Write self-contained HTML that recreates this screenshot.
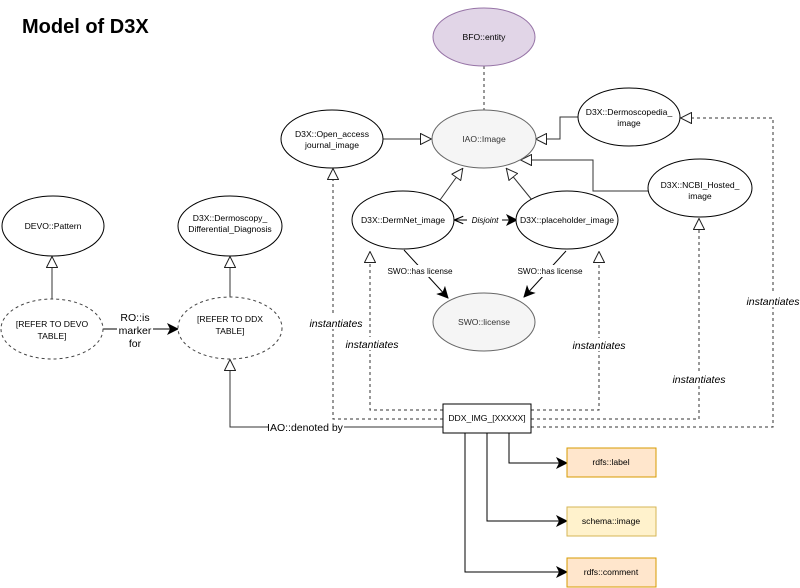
<!DOCTYPE html>
<html><head><meta charset="utf-8"><style>
html,body{margin:0;padding:0;background:#fff;}
svg{display:block;font-family:"Liberation Sans",Arial,sans-serif;}
</style></head><body>
<svg width="800" height="588" viewBox="0 0 800 588" xmlns="http://www.w3.org/2000/svg">
<defs>
<marker id="tri" viewBox="0 0 12 12" refX="12" refY="6" markerWidth="12" markerHeight="12" markerUnits="userSpaceOnUse" orient="auto">
<path d="M0.5,0.5 L11.5,6 L0.5,11.5 Z" fill="#fff" stroke="#222" stroke-width="1"/></marker>
<marker id="arr" viewBox="0 0 12 12" refX="11" refY="6" markerWidth="12" markerHeight="12" markerUnits="userSpaceOnUse" orient="auto">
<path d="M0,0 L12,6 L0,12 L3,6 Z" fill="#000"/></marker>
<marker id="arrs" viewBox="0 0 12 12" refX="1" refY="6" markerWidth="9" markerHeight="9" markerUnits="userSpaceOnUse" orient="auto">
<path d="M12,1 L0,6 L12,11" fill="none" stroke="#000" stroke-width="1.5"/></marker>
</defs>
<text x="22" y="33" font-size="20" font-weight="bold" fill="#000">Model of D3X</text>

<g fill="none" stroke="#333" stroke-width="1">
<line x1="484" y1="66" x2="484" y2="110" stroke-dasharray="3,3"/>
<line x1="383" y1="139" x2="432" y2="139" marker-end="url(#tri)"/>
<polyline points="578,117 560,117 560,139 535,139" marker-end="url(#tri)"/>
<polyline points="648,191 593,191 593,160 520,160" marker-end="url(#tri)"/>
<line x1="440" y1="200" x2="463" y2="168" marker-end="url(#tri)"/>
<line x1="532" y1="200" x2="506" y2="168" marker-end="url(#tri)"/>
<line x1="455" y1="220" x2="517" y2="220" stroke="#000" marker-start="url(#arrs)" marker-end="url(#arr)"/>
<line x1="404" y1="250" x2="448" y2="298" stroke="#000" marker-end="url(#arr)"/>
<line x1="566" y1="251" x2="524" y2="297" stroke="#000" marker-end="url(#arr)"/>
<line x1="52" y1="299" x2="52" y2="256" marker-end="url(#tri)"/>
<line x1="230" y1="297" x2="230" y2="256" marker-end="url(#tri)"/>
<line x1="103" y1="329" x2="178" y2="329" stroke="#000" marker-end="url(#arr)"/>
<polyline points="443,427 230,427 230,359" marker-end="url(#tri)"/>
<g stroke-dasharray="3,3">
<polyline points="443,410 370,410 370,251" marker-end="url(#tri)"/>
<polyline points="531,410 599,410 599,251" marker-end="url(#tri)"/>
<polyline points="443,419 333,419 333,168" marker-end="url(#tri)"/>
<polyline points="531,419 699,419 699,218" marker-end="url(#tri)"/>
<polyline points="531,427 773,427 773,118 680,118" marker-end="url(#tri)"/>
</g>
<polyline points="509,433 509,463 567,463" stroke="#000" marker-end="url(#arr)"/>
<polyline points="487,433 487,521 567,521" stroke="#000" marker-end="url(#arr)"/>
<polyline points="465,433 465,572 567,572" stroke="#000" marker-end="url(#arr)"/>
</g>

<g stroke-width="1">
<ellipse cx="484" cy="37" rx="51" ry="29" fill="#e1d5e7" stroke="#9673a6"/>
<ellipse cx="484" cy="139" rx="52" ry="29" fill="#f5f5f5" stroke="#666"/>
<ellipse cx="332" cy="139" rx="51" ry="29" fill="#fff" stroke="#000"/>
<ellipse cx="629" cy="117" rx="51" ry="29" fill="#fff" stroke="#000"/>
<ellipse cx="700" cy="188" rx="52" ry="29" fill="#fff" stroke="#000"/>
<ellipse cx="403" cy="220" rx="51" ry="29" fill="#fff" stroke="#000"/>
<ellipse cx="567" cy="220" rx="51" ry="29" fill="#fff" stroke="#000"/>
<ellipse cx="484" cy="322" rx="51" ry="29" fill="#f5f5f5" stroke="#666"/>
<ellipse cx="53" cy="226" rx="51" ry="30" fill="#fff" stroke="#000"/>
<ellipse cx="230" cy="226" rx="52" ry="30" fill="#fff" stroke="#000"/>
<ellipse cx="52" cy="329" rx="51" ry="30" fill="#fff" stroke="#444" stroke-dasharray="3,3"/>
<ellipse cx="230" cy="328" rx="52" ry="31" fill="#fff" stroke="#444" stroke-dasharray="3,3"/>
<rect x="443" y="404" width="88" height="29" fill="#fff" stroke="#000"/>
<rect x="567" y="448" width="89" height="29" fill="#ffe6cc" stroke="#d79b00"/>
<rect x="567" y="507" width="89" height="29" fill="#fff2cc" stroke="#d6b656"/>
<rect x="567" y="558" width="89" height="29" fill="#ffe6cc" stroke="#d79b00"/>
</g>

<g font-size="8.6" fill="#000" text-anchor="middle">
<text x="484" y="40">BFO::entity</text>
<text x="484" y="142" fill="#333">IAO::Image</text>
<text x="332" y="137">D3X::Open_access</text>
<text x="332" y="148">journal_image</text>
<text x="629" y="115">D3X::Dermoscopedia_</text>
<text x="629" y="126">image</text>
<text x="700" y="188">D3X::NCBI_Hosted_</text>
<text x="700" y="199">image</text>
<text x="403" y="223">D3X::DermNet_image</text>
<text x="567" y="223">D3X::placeholder_image</text>
<text x="484" y="325" fill="#333">SWO::license</text>
<text x="53" y="229">DEVO::Pattern</text>
<text x="230" y="221">D3X::Dermoscopy_</text>
<text x="230" y="232">Differential_Diagnosis</text>
<text x="52" y="327">[REFER TO DEVO</text>
<text x="52" y="339">TABLE]</text>
<text x="230" y="322">[REFER TO DDX</text>
<text x="230" y="334">TABLE]</text>
<text x="487" y="421">DDX_IMG_[XXXXX]</text>
<text x="611" y="465">rdfs::label</text>
<text x="611" y="524">schema::image</text>
<text x="611" y="575">rdfs::comment</text>
</g>
<g font-size="8.2" text-anchor="middle" fill="#000">
<rect x="467" y="214" width="35" height="12" fill="#fff"/>
<text x="485" y="223" font-style="italic">Disjoint</text>
<rect x="389" y="265" width="62" height="12" fill="#fff"/>
<text x="420" y="274">SWO::has license</text>
<rect x="519" y="265" width="62" height="12" fill="#fff"/>
<text x="550" y="274">SWO::has license</text>
</g>
<g font-size="10.5" text-anchor="middle" fill="#000">
<rect x="117" y="310" width="36" height="40" fill="#fff"/>
<text x="135" y="321">RO::is</text>
<text x="135" y="334">marker</text>
<text x="135" y="347">for</text>
<rect x="268" y="420" width="76" height="14" fill="#fff"/>
<text x="305" y="431">IAO::denoted by</text>
</g>
<g font-size="10.5" font-style="italic" text-anchor="middle" fill="#000">
<rect x="310" y="316" width="52" height="13" fill="#fff"/>
<text x="336" y="327">instantiates</text>
<rect x="346" y="337" width="52" height="13" fill="#fff"/>
<text x="372" y="348">instantiates</text>
<rect x="573" y="338" width="52" height="13" fill="#fff"/>
<text x="599" y="349">instantiates</text>
<rect x="673" y="372" width="52" height="13" fill="#fff"/>
<text x="699" y="383">instantiates</text>
<rect x="747" y="294" width="53" height="13" fill="#fff"/>
<text x="773" y="305">instantiates</text>
</g>
</svg>
</body></html>
